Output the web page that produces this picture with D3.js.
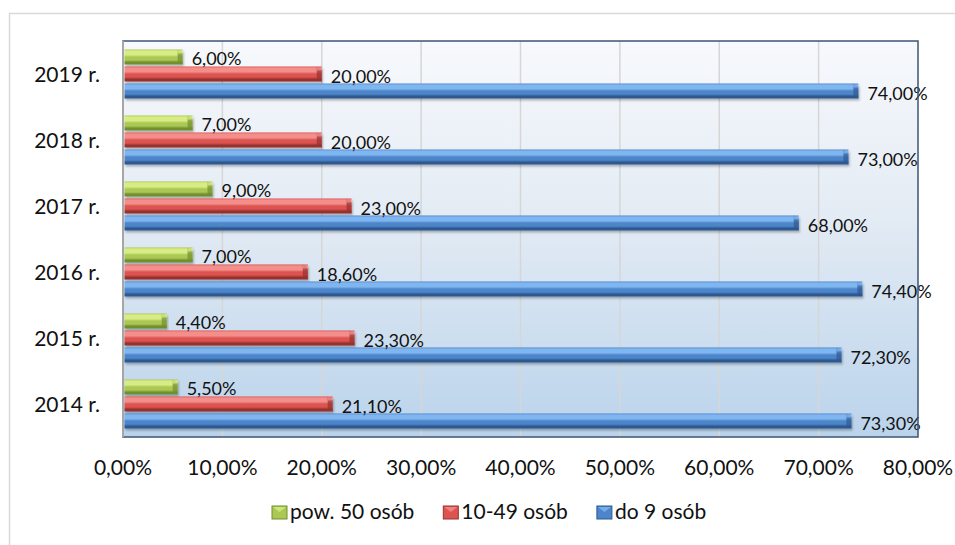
<!DOCTYPE html>
<html>
<head>
    <meta charset="utf-8">
    <title>Struktura zatrudnienia</title>
    <script src="https://d3js.org/d3.v7.min.js"></script>
    <style>
        body { margin: 0; background: #fff; }
        text { font-family: Lato, "Open Sans", sans-serif; fill: #111; }
    </style>
</head>
<body>
    <div id="chart"></div>
    <script>
        // dane
        const years = ["2019 r.", "2018 r.", "2017 r.", "2016 r.", "2015 r.", "2014 r."];
        const series = ["pow. 50 osób", "10-49 osób", "do 9 osób"];
        const pow50 = [6.0, 7.0, 9.0, 7.0, 4.4, 5.5];
        const od10do49 = [20.0, 20.0, 23.0, 18.6, 23.3, 21.1];
        const do9 = [74.0, 73.0, 68.0, 74.4, 72.3, 73.3];
        const xTicks = [0, 10, 20, 30, 40, 50, 60, 70, 80];

        const values = [pow50, od10do49, do9];
        const colors = [
            { light: "#d8ec86", mid: "#abc853", dark: "#718f2f", key: "g" },
            { light: "#f48e8b", mid: "#dc5350", dark: "#96312f", key: "r" },
            { light: "#80b6f0", mid: "#4d85cb", dark: "#2d5890", key: "b" }
        ];

        const width = 955, height = 545;
        const plot = { left: 123, right: 918, top: 41, bottom: 437 };
        const fmt = v => v.toFixed(2).replace(".", ",") + "%";

        const svg = d3.select("#chart").append("svg")
            .attr("width", width)
            .attr("height", height);

        const defs = svg.append("defs");

        const bg = defs.append("linearGradient")
            .attr("id", "bg").attr("x1", 0).attr("y1", 0).attr("x2", 0).attr("y2", 1);
        bg.append("stop").attr("offset", 0).attr("stop-color", "#f7f9fc");
        bg.append("stop").attr("offset", 0.45).attr("stop-color", "#e3ebf4");
        bg.append("stop").attr("offset", 1).attr("stop-color", "#bad3eb");

        colors.forEach(c => {
            const g = defs.append("linearGradient")
                .attr("id", "bar-" + c.key).attr("x1", 0).attr("y1", 0).attr("x2", 0).attr("y2", 1);
            g.append("stop").attr("offset", 0).attr("stop-color", c.mid);
            g.append("stop").attr("offset", 0.1).attr("stop-color", c.light);
            g.append("stop").attr("offset", 0.35).attr("stop-color", c.light);
            g.append("stop").attr("offset", 0.5).attr("stop-color", c.mid);
            g.append("stop").attr("offset", 0.7).attr("stop-color", c.mid);
            g.append("stop").attr("offset", 0.85).attr("stop-color", c.dark);
            g.append("stop").attr("offset", 1).attr("stop-color", c.dark);
        });

        const shadow = defs.append("filter").attr("id", "shadow")
            .attr("x", "-5%").attr("y", "-30%").attr("width", "110%").attr("height", "180%");
        shadow.append("feDropShadow")
            .attr("dx", 1).attr("dy", 2).attr("stdDeviation", 1.2)
            .attr("flood-color", "#000").attr("flood-opacity", 0.28);

        // ramka wykresu
        svg.append("rect")
            .attr("x", 9.5).attr("y", 13.5)
            .attr("width", 1000).attr("height", 600)
            .attr("fill", "none").attr("stroke", "#d9d9d9").attr("stroke-width", 1.5);

        const x = d3.scaleLinear().domain([0, 80]).range([plot.left, plot.right]);
        const y = d3.scaleBand().domain(years)
            .range([plot.top, plot.bottom])
            .paddingInner(0.227).paddingOuter(0.1135);
        const ySub = d3.scaleBand().domain(d3.range(series.length))
            .range([0, y.bandwidth()]);

        // tło obszaru wykresu
        svg.append("rect")
            .attr("x", plot.left).attr("y", plot.top)
            .attr("width", plot.right - plot.left).attr("height", plot.bottom - plot.top)
            .attr("fill", "url(#bg)");

        // linie siatki
        svg.append("g")
            .selectAll("line")
            .data(xTicks.slice(1, -1))
            .join("line")
            .attr("x1", d => x(d)).attr("x2", d => x(d))
            .attr("y1", plot.top).attr("y2", plot.bottom)
            .attr("stroke", "#d6d6d6").attr("stroke-width", 1.5);

        // słupki
        const bars = [];
        years.forEach((yr, i) => {
            series.forEach((s, j) => {
                bars.push({ yr: yr, s: j, v: values[j][i] });
            });
        });

        const barG = svg.append("g")
            .selectAll("g")
            .data(bars)
            .join("g")
            .attr("filter", "url(#shadow)");

        const bx0 = x(0) + 1.5;
        const by = d => y(d.yr) + ySub(d.s) + 1;
        const bh = ySub.bandwidth() - 2;

        barG.append("rect")
            .attr("x", bx0)
            .attr("y", by)
            .attr("width", d => x(d.v) - bx0)
            .attr("height", bh)
            .attr("fill", d => "url(#bar-" + colors[d.s].key + ")");

        // ścięcie końca słupka
        barG.append("path")
            .attr("d", d => {
                const xe = x(d.v), y0 = by(d);
                return `M${xe - 5},${y0} L${xe},${y0 + 4} L${xe},${y0 + bh} L${xe - 5},${y0 + bh - 3} Z`;
            })
            .attr("fill", d => colors[d.s].dark)
            .attr("opacity", 0.7);
        barG.append("path")
            .attr("d", d => {
                const xe = x(d.v), y0 = by(d);
                return `M${xe - 5},${y0} L${xe},${y0 + 4} L${xe - 5},${y0 + 4} Z`;
            })
            .attr("fill", d => colors[d.s].light)
            .attr("opacity", 0.8);

        // etykiety danych
        svg.append("g")
            .selectAll("text")
            .data(bars)
            .join("text")
            .attr("x", d => x(d.v) + 9)
            .attr("y", d => by(d) + bh / 2 + 8.5)
            .style("font-size", "18px")
            .text(d => fmt(d.v));

        // ramka obszaru wykresu
        svg.append("rect")
            .attr("x", plot.left).attr("y", plot.top)
            .attr("width", plot.right - plot.left).attr("height", plot.bottom - plot.top)
            .attr("fill", "none").attr("stroke", "#3e5474").attr("stroke-width", 1.5);
        svg.append("line")
            .attr("x1", plot.left).attr("x2", plot.left)
            .attr("y1", plot.top).attr("y2", plot.bottom)
            .attr("stroke", "#a6a6a6").attr("stroke-width", 2);

        // oś Y
        svg.append("g")
            .selectAll("text")
            .data(years)
            .join("text")
            .attr("x", 100)
            .attr("y", d => y(d) + y.bandwidth() / 2 + 8)
            .attr("text-anchor", "end")
            .style("font-size", "21px")
            .text(d => d);

        // oś X
        svg.append("g")
            .selectAll("text")
            .data(xTicks)
            .join("text")
            .attr("x", d => x(d))
            .attr("y", 475)
            .attr("text-anchor", "middle")
            .style("font-size", "21px")
            .text(d => fmt(d));

        // legenda
        const legend = svg.append("g");
        let lx = 272;
        series.forEach((s, j) => {
            const c = colors[j];
            legend.append("rect")
                .attr("x", lx).attr("y", 506)
                .attr("width", 15).attr("height", 13)
                .attr("fill", c.mid).attr("stroke", c.dark).attr("stroke-width", 1);
            legend.append("path")
                .attr("d", `M${lx + 1},${507} L${lx + 7.5},${512} L${lx + 14},${507} Z`)
                .attr("fill", c.light).attr("opacity", 0.8);
            const t = legend.append("text")
                .attr("x", lx + 18).attr("y", 519)
                .style("font-size", "21px")
                .text(s);
            lx += 18 + t.node().getComputedTextLength() + 29;
        });
    </script>
</body>
</html>
